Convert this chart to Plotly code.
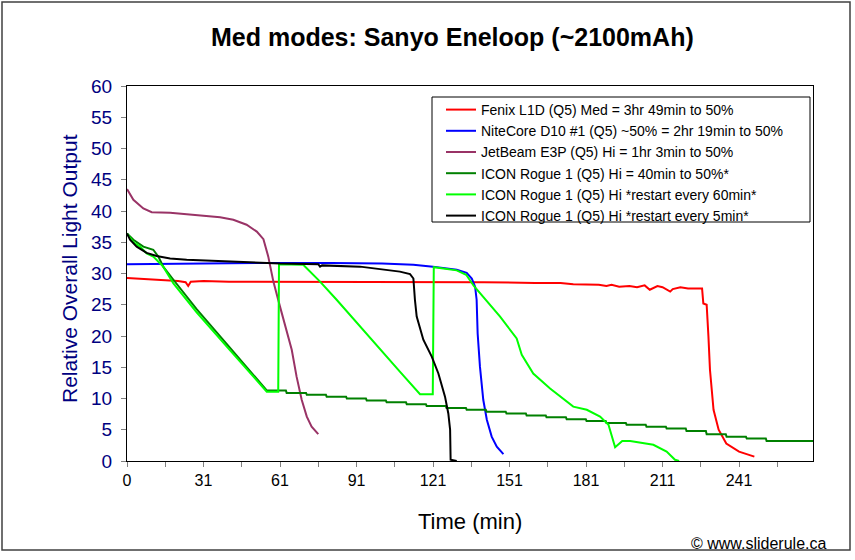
import plotly.graph_objects as go

# ---------------- data ----------------
fenix_t = [0, 10, 20, 23, 24, 25, 30, 40, 60, 80, 100, 120, 140, 160, 170, 175, 179, 185, 188, 190, 193,
           197, 200, 203, 205, 208, 210, 213, 214, 217, 220, 223, 225.5, 226, 227.3, 228, 228.6, 230, 232,
           235, 240, 246]
fenix_y = [29.3, 29.1, 28.8, 28.6, 28.0, 28.7, 28.8, 28.7, 28.7, 28.7, 28.7, 28.6, 28.6, 28.5, 28.5, 28.3,
           28.3, 28.2, 28.0, 28.2, 27.9, 28.0, 27.8, 28.1, 27.4, 28.0, 27.8, 27.1, 27.5, 27.8, 27.6, 27.6,
           27.6, 25.2, 25.0, 19.9, 14.6, 8.2, 5.0, 2.8, 1.5, 0.7]

nite_t = [0, 20, 40, 60, 80, 100, 112.3, 120, 129.3, 133.2, 135.2, 136.5, 137.1, 137.5, 138.4, 139.7,
          141.1, 143, 145, 147.6]
nite_y = [31.5, 31.6, 31.7, 31.7, 31.7, 31.6, 31.4, 31.1, 30.6, 30.1, 29.2, 27.9, 25.8, 20.4, 15.1, 9.8,
          6.6, 3.9, 2.3, 1.1]

jet_t = [0, 2.5, 6.4, 9.7, 16.9, 23.4, 31.2, 36.5, 41.7, 46.9, 50.9, 53.5, 55.4, 57.4, 60, 62.6, 64.6,
         66.5, 68.5, 70.5, 72.4, 75]
jet_y = [43.5, 41.8, 40.4, 39.8, 39.7, 39.5, 39.2, 39.0, 38.6, 37.8, 36.7, 35.5, 32.7, 28.7, 24.7, 21.0,
         17.8, 13.5, 9.8, 7.1, 5.5, 4.3]

icon_t = [0, 2.5, 6.4, 10.3, 12.3, 14.2, 18.2, 23.4, 27.3, 40, 54.8,
          62.3, 62.6, 70.2, 70.5, 78.0, 78.3, 85.9, 86.2, 93.7, 94.0, 101.5, 101.8, 109.4, 109.7,
          117.2, 117.5, 125.0, 125.3, 132.9, 133.2, 140.7, 141.0, 148.5, 148.8, 156.4, 156.7,
          164.2, 164.5, 172.1, 172.4, 179.9, 180.2, 187.7, 188.0, 195.6, 195.9, 203.4, 203.7,
          211.3, 211.6, 219.1, 219.4, 227.0, 227.3, 234.8, 235.1, 242.7, 243.0, 250.5, 250.8, 269]
icon_y = [36.4, 35.4, 34.3, 33.8, 32.7, 31.1, 29.0, 26.3, 24.3, 18.3, 11.3,
          11.3, 10.9, 10.9, 10.6, 10.6, 10.3, 10.3, 10.0, 10.0, 9.7, 9.7, 9.4, 9.4, 9.1,
          9.1, 8.8, 8.8, 8.5, 8.5, 8.2, 8.2, 7.9, 7.9, 7.6, 7.6, 7.3,
          7.3, 7.0, 7.0, 6.7, 6.7, 6.4, 6.4, 6.1, 6.1, 5.8, 5.8, 5.5,
          5.5, 5.2, 5.2, 4.8, 4.8, 4.3, 4.3, 3.9, 3.9, 3.6, 3.6, 3.2, 3.2]

r60_t = [0, 2.5, 5.1, 7.7, 10.3, 14.2, 18.2, 23.4, 27.3, 40, 54.8, 59.3, 59.6, 69.1, 75.7, 82.2, 91.4,
         100.5, 107, 114.9, 119.9, 120.3, 129.3, 133, 136, 146.3, 152.8, 154.8, 159.3, 165.9, 175, 180.3,
         185.5, 188.8, 191.4, 194.2, 197.3, 206.4, 211.6, 214.9, 216.5]
r60_y = [36.4, 35.0, 34.3, 33.2, 32.7, 31.1, 28.4, 25.8, 23.8, 17.9, 11.1, 11.1, 31.5, 31.4, 28.7, 25.8,
         21.5, 17.2, 14.3, 10.7, 10.7, 31.0, 30.5, 29.8, 28.0, 23.1, 19.6, 17.0, 14.0, 11.6, 8.7, 8.2, 7.1,
         5.8, 2.2, 3.2, 3.2, 2.6, 1.5, 0.2, 0.0]

r5_t = [0, 1.2, 3.8, 7.7, 11.6, 16.9, 23.4, 36.5, 60, 75, 75.7, 76.5, 91.4, 99.2, 107, 111, 112.3, 112.9,
        113.6, 116.2, 119.5, 122.1, 124.7, 126, 126.7, 126.9, 129.3]
r5_y = [36.4, 35.4, 34.3, 33.3, 32.8, 32.4, 32.2, 32.0, 31.6, 31.5, 31.1, 31.3, 31.1, 30.7, 30.3, 29.9,
        29.2, 25.8, 23.1, 19.4, 16.7, 14.0, 10.3, 7.6, 5.0, 0.2, 0.0]

series_names = [
    "Fenix L1D (Q5) Med = 3hr 49min to 50%",
    "NiteCore D10 #1 (Q5) ~50% = 2hr 19min to 50%",
    "JetBeam E3P (Q5) Hi = 1hr 3min to 50%",
    "ICON Rogue 1 (Q5) Hi = 40min to 50%*",
    "ICON Rogue 1 (Q5) Hi *restart every 60min*",
    "ICON Rogue 1 (Q5) Hi *restart every 5min*",
]
series_colors = ["#FF0000", "#0000FF", "#993366", "#008000", "#00FF00", "#000000"]

x_tick_positions = [0, 15, 30, 45, 60, 75, 90, 105, 120, 135, 150, 165, 180, 195, 210, 225, 240, 255]
x_tick_labels = ["0", "", "31", "", "61", "", "91", "", "121", "", "151", "", "181", "", "211", "", "241", ""]

FONT = "Arial, Liberation Sans, sans-serif"

fig = go.Figure()
for (tt, yy), name, col in zip(
    [(fenix_t, fenix_y), (nite_t, nite_y), (jet_t, jet_y), (icon_t, icon_y), (r60_t, r60_y), (r5_t, r5_y)],
    series_names, series_colors):
    fig.add_trace(go.Scatter(x=tt, y=yy, mode="lines", name=name,
                             line=dict(color=col, width=2)))

W, H = 855, 560
L, T = 127, 86
R = W - 813
B = H - 461
pw, ph = 813 - 127, 461 - 86


def px_x(p):  # screen pixel -> paper x
    return (p - L) / pw


def px_y(p):  # screen pixel -> paper y
    return (H - B - p) / ph


fig.update_layout(
    width=W, height=H,
    margin=dict(l=L, r=R, t=T, b=B),
    paper_bgcolor="white", plot_bgcolor="white",
    font=dict(family=FONT, color="black"),
    showlegend=True,
    legend=dict(
        x=px_x(441), y=px_y(94), xanchor="left", yanchor="top",
        bgcolor="rgba(0,0,0,0)", borderwidth=0,
        font=dict(family=FONT, size=14, color="black"),
        tracegroupgap=0, itemwidth=30,
    ),
    xaxis=dict(
        range=[0, 269], tickmode="array", tickvals=x_tick_positions, ticktext=x_tick_labels,
        showgrid=False, zeroline=False, showline=True, linecolor="black", linewidth=1, mirror=True,
        ticks="outside", ticklen=5, tickcolor="#808080",
        tickfont=dict(family=FONT, size=16, color="black"),
    ),
    yaxis=dict(
        range=[0, 60], tickmode="linear", tick0=0, dtick=5,
        showgrid=False, zeroline=False, showline=True, linecolor="black", linewidth=1, mirror=True,
        ticks="outside", ticklen=5, tickcolor="#808080", ticklabelstandoff=5,
        tickfont=dict(family=FONT, size=19, color="#000080"),
    ),
)

# legend frame
fig.add_shape(type="rect", xref="paper", yref="paper",
              x0=px_x(432), x1=px_x(810), y0=px_y(222), y1=px_y(97),
              line=dict(color="#000000", width=1), fillcolor="white", layer="above")

fig.add_annotation(text="<b>Med modes: Sanyo Eneloop (~2100mAh)</b>", xref="paper", yref="paper",
                   x=px_x(452), y=px_y(37), xanchor="center", yanchor="middle", showarrow=False,
                   font=dict(family=FONT, size=25, color="black"))
fig.add_annotation(text="Relative Overall Light Output", xref="paper", yref="paper",
                   x=px_x(69), y=px_y(269), xanchor="center", yanchor="middle", showarrow=False,
                   textangle=-90, font=dict(family=FONT, size=21, color="#000080"))
fig.add_annotation(text="Time (min)", xref="paper", yref="paper",
                   x=px_x(470), y=px_y(521), xanchor="center", yanchor="middle", showarrow=False,
                   font=dict(family=FONT, size=22, color="black"))
fig.add_annotation(text="© www.sliderule.ca", xref="paper", yref="paper",
                   x=px_x(828), y=px_y(543), xanchor="right", yanchor="middle", showarrow=False,
                   font=dict(family=FONT, size=16, color="black"))

# outer chart border
fig.add_shape(type="rect", xref="paper", yref="paper",
              x0=px_x(2), x1=px_x(850), y0=px_y(550), y1=px_y(2),
              line=dict(color="#404040", width=1.5), fillcolor="rgba(0,0,0,0)", layer="below")

fig.write_html("out.html", config={"displayModeBar": False},
               post_script="document.body.style.margin='0px';")
